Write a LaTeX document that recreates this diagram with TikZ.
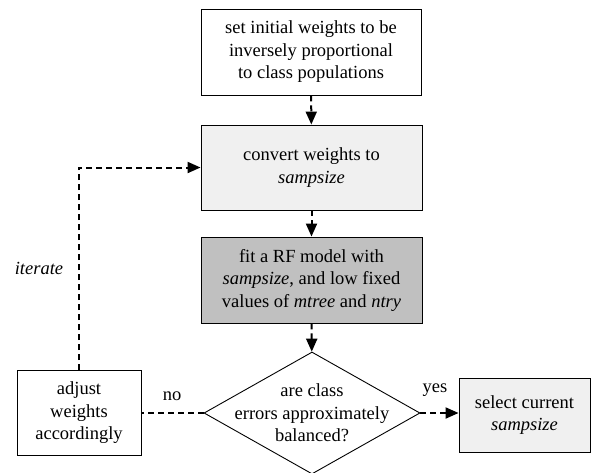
\documentclass[tikz,border=0pt]{standalone}
\usepackage{fontspec}
\setmainfont{Liberation Serif}
\usetikzlibrary{arrows.meta,shapes.geometric}
\definecolor{paleGray}{HTML}{F0F0F0}
\definecolor{midGray}{HTML}{C0C0C0}
\tikzset{
  boxfont/.style={font=\fontsize{18.5}{22.5}\selectfont},
  flowbox/.style={draw=black, line width=0.9pt, align=center, inner sep=0pt, boxfont},
  decision/.style={diamond, draw=black, line width=0.9pt, inner sep=0pt,
    minimum width=216pt, minimum height=122pt},
  flowline/.style={line width=2pt, dash pattern=on 6pt off 4pt},
  flowarrow/.style={flowline, -{Triangle[width=11pt,length=13pt]}},
  edgelabel/.style={font=\fontsize{18.5}{20}\selectfont}
}
\begin{document}
\begin{tikzpicture}[x=1pt, y=-1pt]
  \useasboundingbox (0,0) rectangle (592,472);

  \node[flowbox, minimum width=220pt, minimum height=86pt] (init) at (311,52)
    {set initial weights to be\\inversely proportional\\to class populations};
  \node[flowbox, fill=paleGray, minimum width=221pt, minimum height=85pt] (convert) at (311.5,167.5)
    {convert weights to\\\textit{sampsize}};
  \node[flowbox, fill=midGray, minimum width=221pt, minimum height=86pt] (fit) at (311.5,280)
    {fit a RF model with\\\textit{sampsize}, and low fixed\\values of \textit{mtree} and \textit{ntry}};
  \node[decision] (check) at (312,413) {};
  \node[boxfont, align=center, inner sep=0pt] (checktext) at (check.center)
    {are class\\errors approximately\\balanced?};
  \node[flowbox, minimum width=124pt, minimum height=85pt] (adjust) at (79,413)
    {adjust\\weights\\accordingly};
  \node[flowbox, fill=paleGray, minimum width=131pt, minimum height=74pt] (select) at (524.5,415)
    {select current\\\textit{sampsize}};

  \draw[flowarrow] (init) -- (convert);
  \draw[flowarrow] (convert) -- (fit);
  \draw[flowarrow] (fit) -- (check);
  \draw[flowarrow] (check.east) -- (select.west |- check.east);
  \draw[flowline] (check.west) -- (adjust.east);
  \draw[flowarrow] (adjust.north) |- (convert.west);

  \node[edgelabel] (nolabel) at (172,396) {no};
  \node[edgelabel] (yeslabel) at (435,390) {yes};
  \node[edgelabel] (iterlabel) at (39,268) {\textit{iterate}};
\end{tikzpicture}
\end{document}
